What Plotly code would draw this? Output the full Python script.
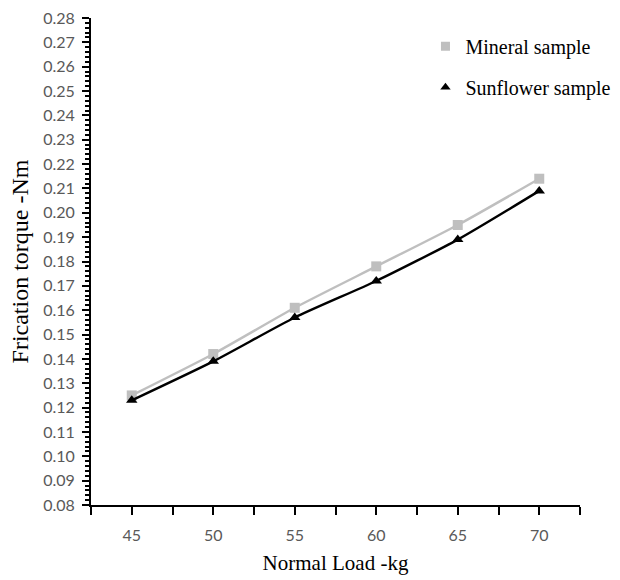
import plotly.graph_objects as go

# Normal load (kg) and measured friction torque (N·m) for the two lubricants
loads = [45, 50, 55, 60, 65, 70]
mineral = [0.125, 0.142, 0.161, 0.178, 0.195, 0.214]
sunflower = [0.123, 0.139, 0.157, 0.172, 0.189, 0.209]

y_ticks = [round(0.08 + 0.01 * i, 2) for i in range(21)]
y_tick_text = [f"{v:.2f}" for v in y_ticks]

GREY = "#BFBFBF"
serif = "Liberation Serif"
sans = "Lato"

fig = go.Figure()

# Data curves (smoothed lines through markers)
fig.add_trace(go.Scatter(
    x=loads, y=mineral, mode="lines+markers", name="Mineral sample",
    line=dict(color=GREY, width=2.4, shape="spline", smoothing=0.6),
    marker=dict(symbol="square", size=10, color=GREY),
    showlegend=False,
))
fig.add_trace(go.Scatter(
    x=loads, y=sunflower, mode="lines+markers", name="Sunflower sample",
    line=dict(color="black", width=2.4, shape="spline", smoothing=0.6),
    marker=dict(symbol="triangle-up", size=10, color="black"),
    showlegend=False,
))

# Legend entries show the marker symbol only
fig.add_trace(go.Scatter(
    x=[None], y=[None], mode="markers", name="Mineral sample",
    marker=dict(symbol="square", size=9, color=GREY), legendgroup="a",
))
fig.add_trace(go.Scatter(
    x=[None], y=[None], mode="markers", name="Sunflower sample",
    marker=dict(symbol="triangle-up", size=9, color="black"), legendgroup="b",
))

fig.update_layout(
    width=620, height=580,
    margin=dict(l=91, r=40, t=18, b=75, autoexpand=False),
    paper_bgcolor="white", plot_bgcolor="white",
    legend=dict(
        x=0.684, y=0.982, xanchor="left", yanchor="top",
        font=dict(family=serif, size=20, color="black"),
        tracegroupgap=12, itemwidth=30, bgcolor="rgba(0,0,0,0)",
    ),
    xaxis=dict(
        range=[42.5, 72.5], tick0=45, dtick=5,
        showline=True, linecolor="black", linewidth=2,
        ticks="outside", ticklen=8, tickwidth=2, tickcolor="black",
        minor=dict(tick0=42.5, dtick=2.5, ticks="outside", ticklen=8,
                   tickwidth=2, tickcolor="black", showgrid=False),
        showgrid=False, zeroline=False,
        tickfont=dict(family=sans, size=16, color="#595959"),
        ticklabelstandoff=7,
        title=dict(text="Normal Load -kg", standoff=12,
                   font=dict(family=serif, size=21, color="black")),
    ),
    yaxis=dict(
        range=[0.08, 0.28], tickvals=y_ticks, ticktext=y_tick_text,
        showline=True, linecolor="black", linewidth=2,
        ticks="outside", ticklen=7, tickwidth=2, tickcolor="black",
        minor=dict(dtick=0.002, ticks="outside", ticklen=4,
                   tickwidth=1.5, tickcolor="black", showgrid=False),
        showgrid=False, zeroline=False,
        tickfont=dict(family=sans, size=16, color="#595959"),
        ticklabelstandoff=4,
        title=dict(text="Frication torque -Nm", standoff=8,
                   font=dict(family=serif, size=24, color="black")),
    ),
)

fig.write_html("out.html")
